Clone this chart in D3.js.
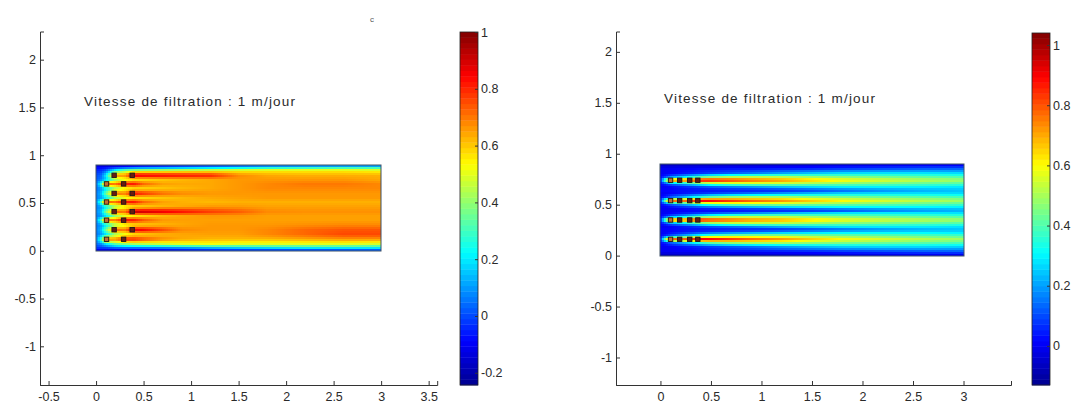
<!DOCTYPE html>
<html><head><meta charset="utf-8">
<style>html,body{margin:0;background:#fff}svg{display:block}text{font-family:"Liberation Sans",Arial,sans-serif;fill:#2a2a2a}</style>
<script src="https://cdn.jsdelivr.net/npm/d3@7"></script></head><body>
<svg id="c" width="1073" height="403"></svg>
<script>
const noteText = "Vitesse de filtration : 1 m/jour";
const xNodes = [0,.05,.1,.2,.3,.4,.5,.7,.9,1.2,1.5,1.8,2.2,2.6,3];

// Panel A : concentration, one row per y node (bottom to top), columns = xNodes
const leftYNodes = [0,.03,.07,.12,.17,.22,.27,.32,.365,.41,.46,.51,.555,.6,.65,.7,.745,.79,.84,.87,.9];
const leftField = [
[-.13,-.14,-.15,-.15,-.15,-.15,-.14,-.12,-.1,-.08,-.07,-.06,-.05,-.04,-.03],
[-.03,-.02,-.01,.03,.05,.05,.06,.07,.09,.13,.16,.18,.2,.2,.2],
[.03,.08,.18,.32,.38,.42,.44,.47,.5,.52,.5,.5,.5,.5,.48],
[.08,.3,.74,.7,.82,.82,.76,.68,.64,.62,.62,.62,.64,.66,.66],
[.05,.1,.18,.4,.5,.55,.58,.62,.64,.65,.65,.68,.72,.76,.76],
[.06,.14,.36,.74,.7,.88,.85,.76,.68,.66,.66,.68,.72,.74,.74],
[.05,.1,.18,.4,.5,.55,.58,.62,.64,.66,.66,.66,.67,.68,.68],
[.08,.3,.74,.7,.84,.82,.74,.66,.65,.65,.65,.65,.65,.65,.65],
[.06,.1,.18,.4,.5,.55,.58,.62,.64,.66,.66,.65,.65,.65,.65],
[.08,.14,.38,.76,.72,.94,.92,.88,.84,.78,.74,.68,.67,.67,.67],
[.06,.1,.18,.4,.5,.55,.58,.62,.64,.66,.66,.65,.65,.65,.65],
[.08,.3,.74,.7,.82,.82,.72,.65,.63,.62,.63,.63,.63,.63,.63],
[.06,.1,.18,.4,.5,.55,.57,.6,.62,.64,.65,.66,.66,.66,.66],
[.06,.14,.36,.74,.7,.86,.8,.72,.68,.66,.66,.66,.66,.66,.66],
[.04,.09,.17,.4,.5,.55,.57,.6,.62,.64,.66,.68,.68,.68,.68],
[.05,.26,.74,.7,.82,.82,.72,.65,.64,.64,.66,.68,.7,.7,.68],
[.02,.06,.14,.38,.5,.55,.57,.6,.62,.64,.66,.66,.66,.66,.64],
[.0,.04,.2,.7,.68,.9,.88,.86,.84,.82,.68,.64,.63,.63,.63],
[-.04,-.03,.02,.24,.38,.44,.46,.48,.5,.52,.54,.55,.55,.55,.53],
[-.08,-.08,-.07,-.02,.02,.05,.07,.09,.12,.16,.2,.24,.26,.28,.28],
[-.14,-.16,-.17,-.17,-.17,-.16,-.14,-.12,-.1,-.08,-.06,-.04,-.03,-.02,-.01]
];

// Panel B : lengthwise profiles, columns = xNodes
const rightEdge   = [-.07,-.07,-.07,-.07,-.07,-.07,-.07,-.07,-.07,-.06,-.05,-.04,-.03,-.02,-.02];
const rightMargin = [.0,.0,.0,.01,.01,.02,.02,.03,.03,.04,.05,.07,.09,.11,.12];
const plumeCore1  = [.06,.5,.84,.82,.86,.96,.93,.86,.8,.74,.67,.61,.57,.53,.5];
const plumeCore2  = [.06,.5,.84,.82,.86,.95,.89,.82,.76,.72,.66,.6,.56,.53,.5];
const plumeCore3  = [.06,.5,.84,.82,.86,.96,.94,.87,.81,.75,.68,.62,.57,.53,.5];
const plumeShoulder = [.02,.06,.12,.2,.28,.36,.42,.48,.5,.5,.47,.45,.43,.41,.39];
const plumeFlank  = [.0,.0,.01,.03,.05,.07,.09,.12,.15,.2,.24,.27,.28,.28,.27];
const gapLight    = [.02,.02,.02,.03,.03,.03,.03,.04,.04,.05,.08,.12,.17,.21,.24];
const gapDark     = [.0,.0,.0,.0,.01,.01,.01,.01,.02,.02,.03,.06,.12,.17,.21];
const rightYNodes = [0,.04,.09,.125,.16,.195,.23,.255,.28,.315,.35,.385,.42,.445,.47,.505,.54,.575,.61,.64,.67,.705,.74,.775,.81,.855,.9];
const rightField = [
  rightEdge,rightMargin,plumeFlank,plumeShoulder,plumeCore1,plumeShoulder,plumeFlank,gapLight,
  plumeFlank,plumeShoulder,plumeCore2,plumeShoulder,plumeFlank,gapDark,
  plumeFlank,plumeShoulder,plumeCore3,plumeShoulder,plumeFlank,gapLight,
  plumeFlank,plumeShoulder,plumeCore3,plumeShoulder,plumeFlank,rightMargin,rightEdge
];

const leftSourceX = [.19,.38,.11,.29,.19,.38,.11,.29,.19,.38,.11,.29,.19,.38,.11,.29];
const leftSourceY = [.79,.79,.7,.7,.6,.6,.51,.51,.41,.41,.32,.32,.22,.22,.12,.12];
const rightSourceX = [.1,.19,.29,.37,.1,.19,.29,.37,.1,.19,.29,.37,.1,.19,.29,.37];
const rightSourceY = [.16,.16,.16,.16,.35,.35,.35,.35,.54,.54,.54,.54,.74,.74,.74,.74];

const leftXTicks = [-.5,0,.5,1,1.5,2,2.5,3,3.5];
const rightXTicks = [0,.5,1,1.5,2,2.5,3];
const leftYTicks = [-1,-.5,0,.5,1,1.5,2];
const rightYTicks = [-1,-.5,0,.5,1,1.5,2];
const leftBarTicks = [-.2,0,.2,.4,.6,.8,1];
const rightBarTicks = [0,.2,.4,.6,.8,1];
const jetStops = ["#00008f","#0000ff","#00ffff","#80ff80","#ffff00","#ff8000","#ff0000","#800000"];
const jetPos = [0,.125,.375,.5,.625,.75,.875,1];

const svg = d3.select("#c");
const fmt = v => String(v);
const tickFont = 12.5;

function panel(o){
  const x = d3.scaleLinear().domain(o.xd).range(o.xr);
  const y = d3.scaleLinear().domain(o.yd).range(o.yr);
  const bar = d3.scaleLinear().domain(o.bd).range([o.barB,o.barT]);
  const t = d3.scaleLinear().domain(o.bd).range([0,1]);
  const jet = d3.scaleLinear().domain(jetPos).range(jetStops).clamp(true);
  const color = v => jet(t(v));
  const g = svg.append("g");

  // shaded field (MATLAB "shading interp" between the read nodes)
  const sx = 2, sy = 2, cells=[];
  const xi = d3.scaleLinear().domain(xNodes).range(xNodes.map((_,i)=>i)).clamp(true);
  const yi = d3.scaleLinear().domain(o.yNodes).range(o.yNodes.map((_,i)=>i)).clamp(true);
  const px0 = Math.round(x(0)), px1 = Math.round(x(3)), py0 = Math.round(y(.9)), py1 = Math.round(y(0));
  for(let py=py0; py<py1; py+=sy) for(let px=px0; px<px1; px+=sx){
    const a = xi(x.invert(px+sx/2)), b = yi(y.invert(py+sy/2));
    const a0 = Math.min(Math.floor(a),xNodes.length-2), b0 = Math.min(Math.floor(b),o.yNodes.length-2);
    const fa=a-a0, fb=b-b0, F=o.field;
    const v = (F[b0][a0]*(1-fa)+F[b0][a0+1]*fa)*(1-fb)+(F[b0+1][a0]*(1-fa)+F[b0+1][a0+1]*fa)*fb;
    cells.push({px,py,v});
  }
  g.append("g").attr("shape-rendering","crispEdges").selectAll("rect").data(cells).join("rect")
    .attr("x",d=>d.px).attr("y",d=>d.py)
    .attr("width",d=>Math.min(sx,px1-d.px)).attr("height",d=>Math.min(sy,py1-d.py))
    .attr("fill",d=>color(d.v));
  g.append("rect").attr("x",px0).attr("y",py0).attr("width",px1-px0).attr("height",py1-py0)
    .attr("fill","none").attr("stroke","#3f5268").attr("stroke-width",1);

  // sources
  g.append("g").selectAll("rect").data(o.sx.map((v,i)=>[v,o.sy[i]])).join("rect")
    .attr("x",d=>x(d[0])-2.2).attr("y",d=>y(d[1])-2.2).attr("width",4.4).attr("height",4.4)
    .attr("fill",d=>d[0]<.15?"#c86a30":"#6a1a10").attr("stroke","#1a1a1a").attr("stroke-width",.9);

  // axes
  const ax = g.append("g").attr("transform",`translate(0,${o.yr[0]})`)
    .call(d3.axisBottom(x).tickValues(o.xt).tickFormat(fmt).tickSize(-4).tickPadding(7));
  const ay = g.append("g").attr("transform",`translate(${o.xr[0]},0)`)
    .call(d3.axisLeft(y).tickValues(o.yt).tickFormat(fmt).tickSize(-4).tickPadding(4));
  [ax,ay].forEach(a=>{a.selectAll("path,line").attr("stroke","#333").attr("stroke-width",1);
    a.selectAll("text").attr("font-size",tickFont).attr("font-family",'"Liberation Sans",Arial,sans-serif').style("fill","#2a2a2a");});

  // colorbar
  const steps = d3.range(64);
  const bh = (o.barB-o.barT)/64;
  g.append("g").selectAll("rect").data(steps).join("rect")
    .attr("x",o.barL).attr("width",o.barW).attr("y",d=>o.barB-(d+1)*bh).attr("height",bh+.4)
    .attr("fill",d=>jet((d+.5)/64));
  g.append("rect").attr("x",o.barL).attr("y",o.barT).attr("width",o.barW).attr("height",o.barB-o.barT)
    .attr("fill","none").attr("stroke","#222").attr("stroke-width",.8);
  const ab = g.append("g").attr("transform",`translate(${o.barL+o.barW},0)`)
    .call(d3.axisRight(bar).tickValues(o.bt).tickFormat(fmt).tickSize(-3).tickPadding(3));
  ab.select("path").remove();
  ab.selectAll("line").attr("stroke","#333");
  ab.selectAll("text").attr("font-size",tickFont).attr("font-family",'"Liberation Sans",Arial,sans-serif').style("fill","#2a2a2a");

  g.append("text").attr("x",o.noteX).attr("y",o.noteY).attr("font-size",13.5).attr("letter-spacing",1.2).text(noteText);
}

panel({xd:[-.59,3.59],xr:[40,437.2],yd:[-1.405,2.295],yr:[385,31.5],
  bd:[-.243,1],barL:460,barW:18,barT:32,barB:385,bt:leftBarTicks,
  yNodes:leftYNodes,field:leftField,sx:leftSourceX,sy:leftSourceY,xt:leftXTicks,yt:leftYTicks,noteX:84,noteY:106});
panel({xd:[-.44,3.47],xr:[616,1011],yd:[-1.27,2.2],yr:[385,31.5],
  bd:[-.13,1.04],barL:1032,barW:18,barT:33,barB:385,bt:rightBarTicks,
  yNodes:rightYNodes,field:rightField,sx:rightSourceX,sy:rightSourceY,xt:rightXTicks,yt:rightYTicks,noteX:664,noteY:103});

svg.append("text").attr("x",370).attr("y",22).attr("font-size",8).style("fill","#555").text("c");
</script></body></html>
